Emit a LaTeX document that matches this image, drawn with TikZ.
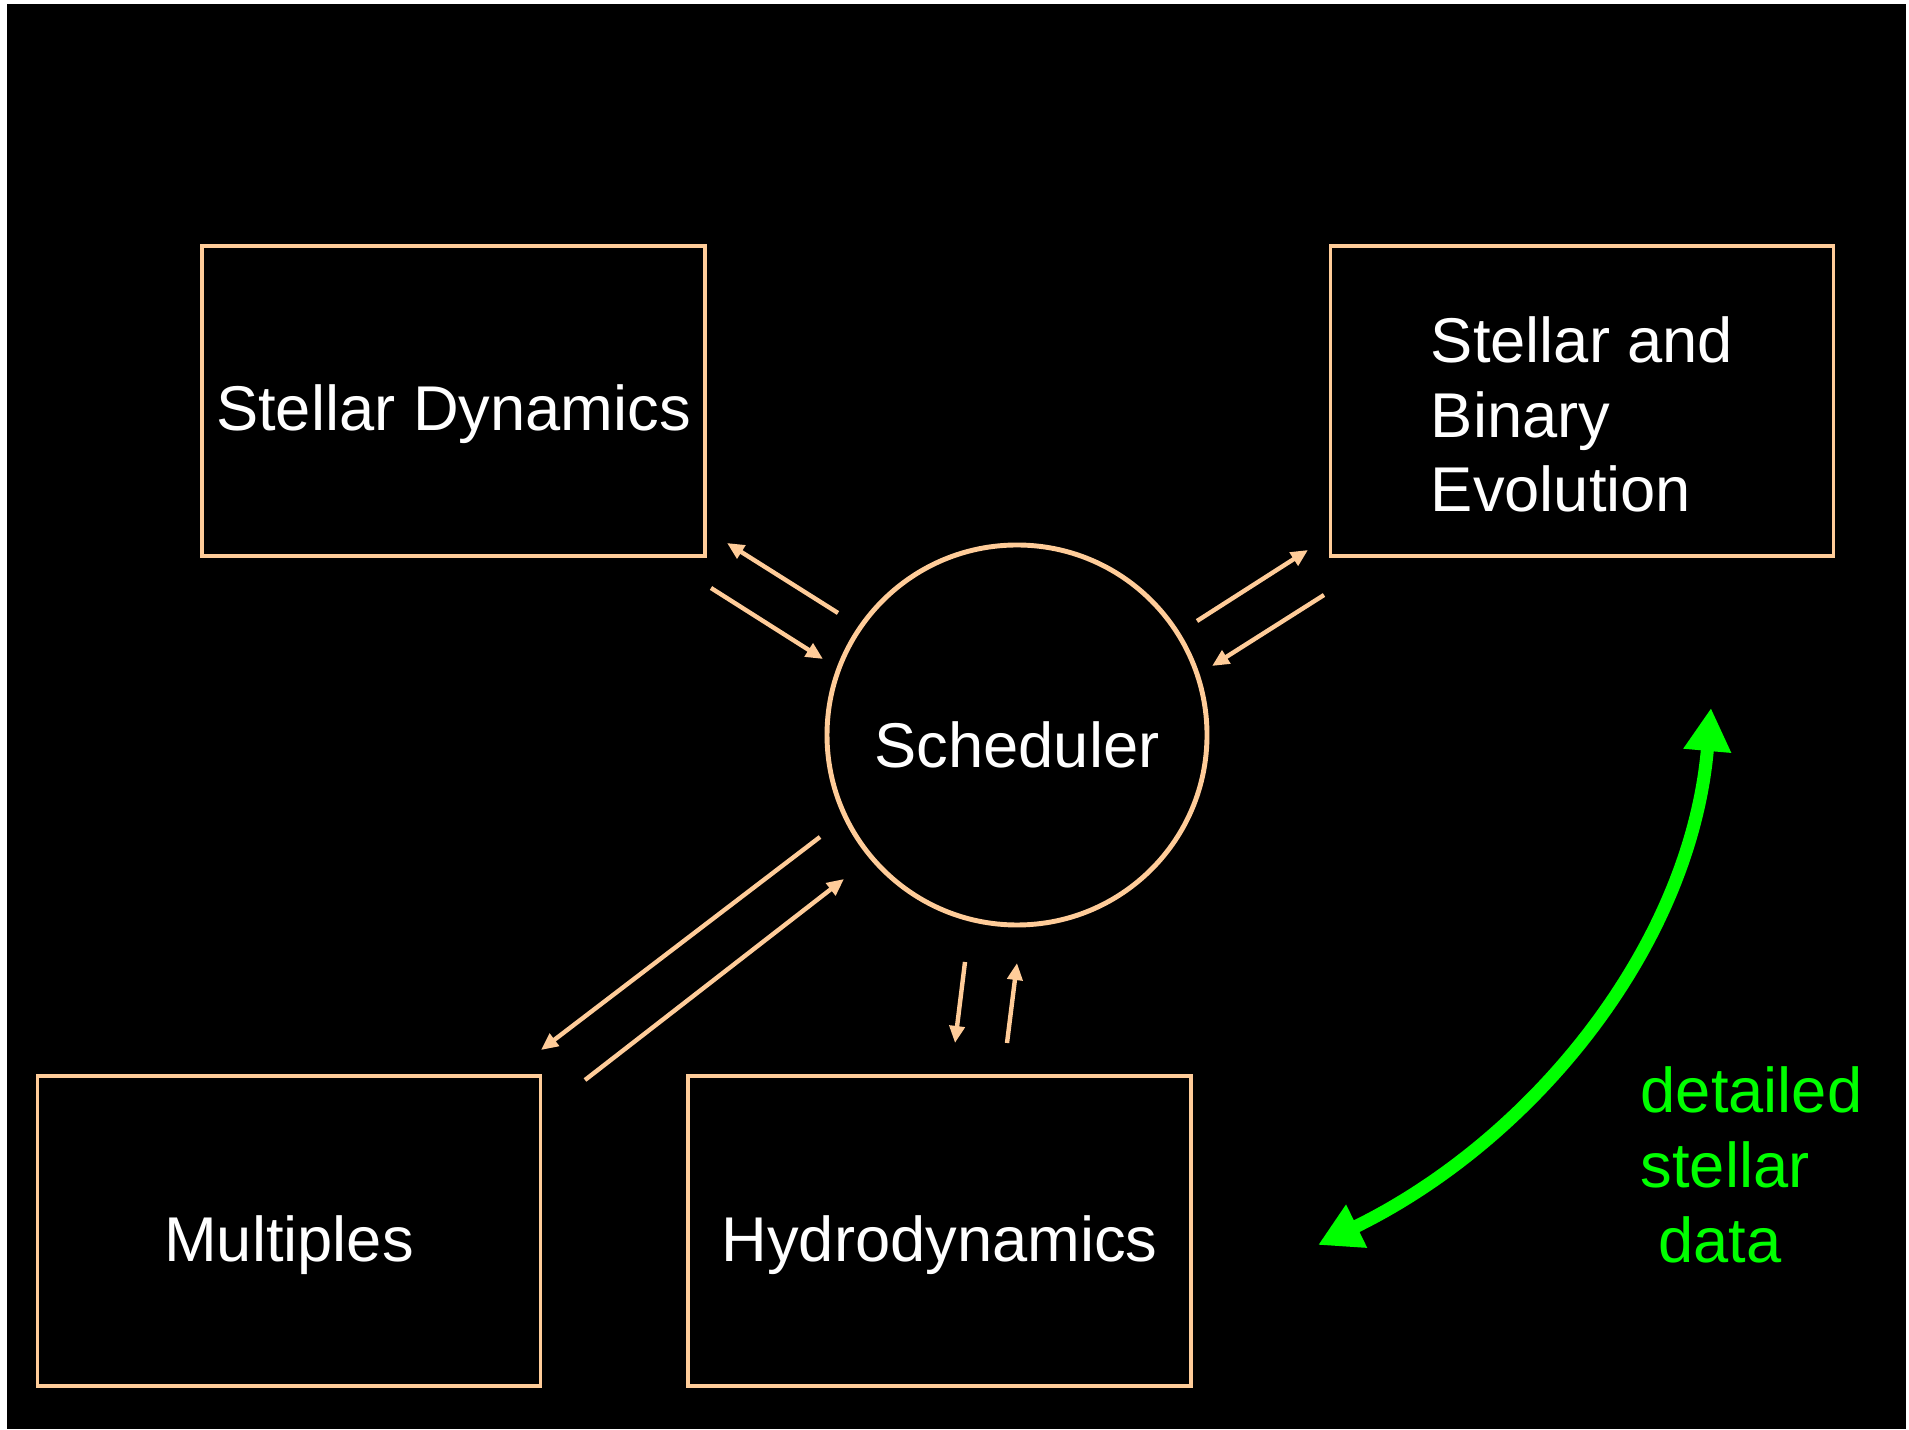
\documentclass[tikz,border=0pt]{standalone}
\usepackage{fontspec}
\setmainfont{Liberation Sans}
\usetikzlibrary{arrows.meta, positioning}
\definecolor{peach}{RGB}{255,204,153}
\definecolor{vivid}{RGB}{0,255,0}

\begin{document}
\begin{tikzpicture}[x=1cm,y=1cm, every node/.style={font=\fontsize{18}{21.3}\selectfont, text=white},
    modbox/.style={draw=peach, rectangle, line width=1.05pt, inner sep=0pt, minimum width=5.03cm, minimum height=3.10cm, text height=0.6cm, text depth=0cm},
    flow/.style={draw=peach, line width=1.25pt, -{Triangle[length=0.17cm,width=0.15cm]}}]
    \fill[white] (0,0) rectangle (19.09,14.29);
    \fill[black] (0.07,0) rectangle (19.06,14.25);
    \useasboundingbox (0,0) rectangle (19.09,14.29);
    % modules round the scheduler
    \node[modbox] (sdyn) at (4.535,10.28) {Stellar Dynamics};
    \node[modbox, align=left, text height=2.22cm] (sbev) at (15.82,10.28) {Stellar and\\Binary\\Evolution};
    \node[modbox] (mult) at (2.89,1.98) {Multiples};
    \node[modbox] (hydro) at (9.395,1.98) {Hydrodynamics};
    \node[draw=peach, circle, line width=1.4pt, inner sep=0pt, minimum size=3.80cm, text height=0.66cm, text depth=0cm] (sched) at (10.17,6.94) {Scheduler};
    % arrow ends
    \coordinate (sdA) at (8.38,8.16);  \coordinate (sdB) at (7.27,8.86);
    \coordinate (sdC) at (7.11,8.41);  \coordinate (sdD) at (8.23,7.70);
    \coordinate (sbA) at (11.97,8.08); \coordinate (sbB) at (13.08,8.79);
    \coordinate (sbC) at (13.24,8.34); \coordinate (sbD) at (12.12,7.63);
    \coordinate (muA) at (8.20,5.92);  \coordinate (muB) at (5.41,3.79);
    \coordinate (muC) at (5.85,3.49);  \coordinate (muD) at (8.44,5.50);
    \coordinate (hyA) at (9.65,4.67);  \coordinate (hyB) at (9.55,3.86);
    \coordinate (hyC) at (10.07,3.86); \coordinate (hyD) at (10.17,4.66);
    \draw[flow] (sdA) -- (sdB);
    \draw[flow] (sdC) -- (sdD);
    \draw[flow] (sbA) -- (sbB);
    \draw[flow] (sbC) -- (sbD);
    \draw[flow] (muA) -- (muB);
    \draw[flow] (muC) -- (muD);
    \draw[flow] (hyA) -- (hyB);
    \draw[flow] (hyC) -- (hyD);
    % stellar data link
    \coordinate (gbot) at (13.18,1.84);
    \coordinate (gtop) at (17.11,7.21);
    \draw[vivid, line width=3.7pt, {Triangle[length=0.43cm,width=0.45cm]}-{Triangle[length=0.43cm,width=0.45cm]}] (gbot) to[out=26, in=-95, looseness=0.92] (gtop);
    \node[text=vivid, align=left, anchor=base west, inner sep=0pt] (gtxt) at (16.40,1.67) {detailed\\stellar\\~data};
\end{tikzpicture}
\end{document}
